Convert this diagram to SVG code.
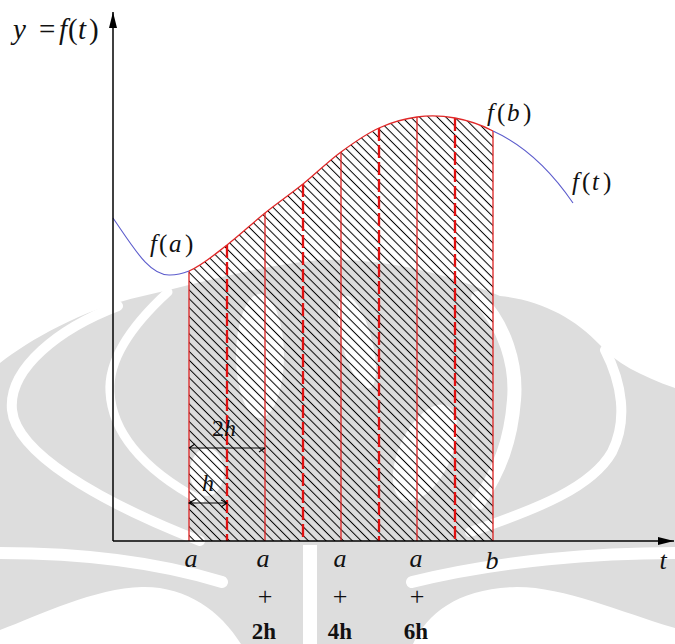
<svg xmlns="http://www.w3.org/2000/svg" width="675" height="644" viewBox="0 0 675 644">
<style>
  .wm { fill: #dddddd; }
  .wgap { fill: none; stroke: #ffffff; stroke-linecap: round; }
  .wfill { fill: #ffffff; }
  .axis { fill: none; stroke: #000; stroke-width: 1.5; }
  .blue { fill: none; stroke: #5c5ccc; stroke-width: 1.1; }
  .redc { fill: none; stroke: #e02828; stroke-width: 1.3; }
  .solid { stroke: #dd2222; stroke-width: 1.3; }
  .dash { stroke: #e01010; stroke-width: 2.3; stroke-dasharray: 13 4; }
  .dim { fill: none; stroke: #000; stroke-width: 1.1; }
  .i { font-style: italic; }
  .n { font-style: normal; }
</style>
<defs>
  <pattern id="hatch" patternUnits="userSpaceOnUse" width="6.2" height="6.2" patternTransform="rotate(-45)">
    <line x1="3.1" y1="-1" x2="3.1" y2="7.2" stroke="#000" stroke-width="1"/>
  </pattern>
  <marker id="axisArrow" viewBox="0 0 16 8" refX="16" refY="4" markerWidth="16" markerHeight="8" markerUnits="userSpaceOnUse" orient="auto">
    <path d="M0,0 L16,4 L0,8 Z" fill="#000"/>
  </marker>
</defs>

<rect width="675" height="644" fill="#ffffff"/>

<g id="watermark">
  <path class="wm" d="M0,363 C30,340 80,310 143,296 C200,283 260,265 320,260 C390,258 450,275 500,296 C540,300 575,318 600,345 C615,362 640,376 675,388 L675,644 L0,644 Z"/>
  <path class="wgap" stroke-width="10" d="M118,306 C60,328 8,368 12,410 C16,452 95,500 200,541"/>
  <path class="wgap" stroke-width="9" d="M168,292 C132,325 108,360 110,392 C112,430 140,468 200,500"/>
  <path class="wgap" stroke-width="14" d="M478,298 C505,325 517,365 514,400 C511,440 500,470 478,503"/>
  <path class="wgap" stroke-width="10" d="M605,350 C622,383 628,420 612,452 C592,487 540,508 470,532"/>
  <path class="wgap" stroke-width="12" d="M0,553 C70,553 150,560 222,582"/>
  <path class="wgap" stroke-width="12" d="M675,553 C600,553 500,560 412,582"/>
  <path class="wfill" d="M0,630 C40,615 95,588 142,587 C185,586 220,610 241,644 L0,644 Z"/>
  <path class="wfill" d="M413,644 C428,612 460,588 517,587 C565,587 620,612 675,628 L675,644 Z"/>
  <rect class="wfill" x="303" y="545" width="14" height="99"/>
  <ellipse class="wfill" cx="260" cy="356" rx="24" ry="62"/>
  <ellipse class="wfill" cx="357" cy="342" rx="15" ry="48" transform="rotate(-15 357 342)"/>
  <ellipse class="wfill" cx="425" cy="453" rx="26" ry="52" transform="rotate(25 425 453)"/>
  <ellipse class="wfill" cx="207" cy="472" rx="17" ry="24"/>
</g>

<g id="area">
  <path fill="url(#hatch)" d="M189,541 L189,271 C201.7,265.8 214.3,254.7 227,245 C239.7,235.3 252.3,223.2 265,213 C277.7,202.8 290.3,194.2 303,184 C315.7,173.8 328.3,161.3 341,152 C353.7,142.7 366.3,133.8 379,128 C391.7,122.2 404.3,118.7 417,117 C429.7,115.3 442.3,115.7 455,118 C467.7,120.3 480.3,124.3 493,131 L493,541 Z"/>
</g>

<g id="strips">
  <line class="solid" x1="189" y1="271" x2="189" y2="541"/>
  <line class="solid" x1="265" y1="213" x2="265" y2="541"/>
  <line class="solid" x1="341" y1="152" x2="341" y2="541"/>
  <line class="solid" x1="417" y1="117" x2="417" y2="541"/>
  <line class="solid" x1="493" y1="131" x2="493" y2="541"/>
  <line class="dash" x1="227" y1="245" x2="227" y2="541"/>
  <line class="dash" x1="303" y1="184" x2="303" y2="541"/>
  <line class="dash" x1="379" y1="128" x2="379" y2="541"/>
  <line class="dash" x1="455" y1="118" x2="455" y2="541"/>
</g>

<g id="curve">
  <path class="blue" d="M113,218 C135,250 150,276 170,275 C178,275 184,273 189,271"/>
  <path class="redc" d="M189,271 C201.7,265.8 214.3,254.7 227,245 C239.7,235.3 252.3,223.2 265,213 C277.7,202.8 290.3,194.2 303,184 C315.7,173.8 328.3,161.3 341,152 C353.7,142.7 366.3,133.8 379,128 C391.7,122.2 404.3,118.7 417,117 C429.7,115.3 442.3,115.7 455,118 C467.7,120.3 480.3,124.3 493,131"/>
  <path class="blue" d="M493,131 C515,141 545,162 573,203"/>
</g>

<g id="connectors">
  <path class="axis" d="M113,541 L113,12" marker-end="url(#axisArrow)"/>
  <path class="axis" d="M113,541 L674,541" marker-end="url(#axisArrow)"/>
  <path class="dim" d="M189,448 H265 M189,448 L195,444 M265,448 L259,452"/>
  <path class="dim" d="M189,503 H227 M196,499 L189,503 L196,507 M221,500 L227,503 L221,507"/>
</g>

<g id="labels" font-family="'Liberation Serif', 'Times New Roman', 'DejaVu Serif', serif" fill="#111">
  <text class="i" x="13" y="39" font-size="29">y</text>
  <text class="n" x="39" y="39" font-size="29">=</text>
  <text y="39" font-size="29"><tspan class="i" x="59">f</tspan><tspan class="n" x="68">(</tspan><tspan class="i" x="78">t</tspan><tspan class="n" x="89">)</tspan></text>

  <text y="252" font-size="25"><tspan class="i" x="150">f</tspan><tspan class="n" x="159">(</tspan><tspan class="i" x="169">a</tspan><tspan class="n" x="185">)</tspan></text>
  <text y="121" font-size="25"><tspan class="i" x="487">f</tspan><tspan class="n" x="497">(</tspan><tspan class="i" x="507">b</tspan><tspan class="n" x="523">)</tspan></text>
  <text y="190" font-size="25"><tspan class="i" x="572">f</tspan><tspan class="n" x="582">(</tspan><tspan class="i" x="592">t</tspan><tspan class="n" x="603">)</tspan></text>

  <text y="436" font-size="24"><tspan class="n" x="212">2</tspan><tspan class="i" x="224">h</tspan></text>
  <text class="i" x="202" y="491" font-size="24">h</text>

  <text class="i" x="191" y="567" font-size="26" text-anchor="middle">a</text>
  <text class="i" x="263" y="567" font-size="26" text-anchor="middle">a</text>
  <text class="i" x="340" y="567" font-size="26" text-anchor="middle">a</text>
  <text class="i" x="416" y="567" font-size="26" text-anchor="middle">a</text>
  <text class="i" x="492" y="569" font-size="26" text-anchor="middle">b</text>
  <text class="i" x="663" y="569" font-size="26" text-anchor="middle">t</text>

  <text class="n" x="265" y="605" font-size="26" text-anchor="middle">+</text>
  <text class="n" x="340" y="605" font-size="26" text-anchor="middle">+</text>
  <text class="n" x="417" y="605" font-size="26" text-anchor="middle">+</text>

  <text class="n" x="264" y="639" font-size="23" font-weight="bold" text-anchor="middle">2h</text>
  <text class="n" x="340" y="639" font-size="23" font-weight="bold" text-anchor="middle">4h</text>
  <text class="n" x="416" y="639" font-size="23" font-weight="bold" text-anchor="middle">6h</text>
</g>
</svg>
